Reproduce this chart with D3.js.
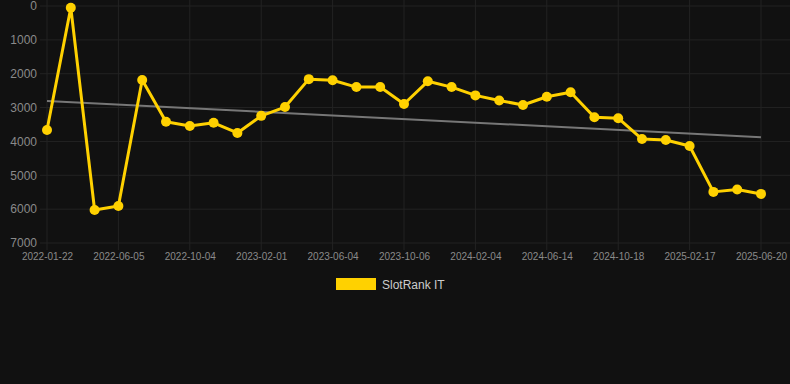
<!DOCTYPE html>
<html>
<head>
<meta charset="utf-8">
<script src="https://cdn.jsdelivr.net/npm/d3@7"></script>
<style>
  body { margin: 0; background: #111111; }
  svg { display: block; font-family: "Liberation Sans", Arial, sans-serif; }
</style>
</head>
<body>
<div id="chart"></div>
<script>
// rank values, one point per period
var rankValues = [3660, 50, 6025, 5905, 2185, 3420, 3545, 3450, 3750, 3245,
  2985, 2160, 2195, 2395, 2395, 2895, 2225, 2395, 2640, 2790,
  2925, 2680, 2545, 3285, 3315, 3930, 3960, 4135, 5490, 5420, 5550];

// every third point carries a date label
var tickIndex = [0, 3, 6, 9, 12, 15, 18, 21, 24, 27, 30];
var tickLabels = ["2022-01-22", "2022-06-05", "2022-10-04", "2023-02-01", "2023-06-04",
  "2023-10-06", "2024-02-04", "2024-06-14", "2024-10-18", "2025-02-17", "2025-06-20"];

var yTicks = [0, 1000, 2000, 3000, 4000, 5000, 6000, 7000];
var seriesName = "SlotRank IT";

var svgWidth = 790;
var svgHeight = 384;

var svg = d3.select("#chart")
  .append("svg")
  .attr("width", svgWidth)
  .attr("height", svgHeight);

svg.append("rect")
  .attr("width", svgWidth)
  .attr("height", svgHeight)
  .attr("fill", "#111111");

var xScale = d3.scaleLinear()
  .domain([0, rankValues.length - 1])
  .range([47, 761]);

var yScale = d3.scaleLinear()
  .domain([0, 7000])
  .range([6, 243]);

// grid lines
var grid = svg.append("g");
grid.selectAll(".hgrid")
  .data(yTicks)
  .enter()
  .append("line")
  .attr("x1", 40)
  .attr("x2", 790)
  .attr("y1", d => yScale(d))
  .attr("y2", d => yScale(d))
  .attr("stroke", "#232323")
  .attr("stroke-width", 1);

grid.selectAll(".vgrid")
  .data(tickIndex)
  .enter()
  .append("line")
  .attr("x1", d => xScale(d))
  .attr("x2", d => xScale(d))
  .attr("y1", 0)
  .attr("y2", 250)
  .attr("stroke", "#232323")
  .attr("stroke-width", 1);

// y axis labels
var leftAxis = d3.axisLeft(yScale)
  .tickValues(yTicks)
  .tickSize(0)
  .tickPadding(0)
  .tickFormat(d => d);

var yAxis = svg.append("g")
  .attr("transform", "translate(37, 0)")
  .call(leftAxis);
yAxis.select(".domain").remove();
yAxis.selectAll("text")
  .attr("fill", "#8a8a8a")
  .attr("font-size", 12)
  .attr("font-family", "Liberation Sans, Arial, sans-serif");

// x axis labels
var bottomAxis = d3.axisBottom(xScale)
  .tickValues(tickIndex)
  .tickSize(0)
  .tickPadding(0)
  .tickFormat((d, i) => tickLabels[i]);

var xAxis = svg.append("g")
  .attr("transform", "translate(0, 253)")
  .call(bottomAxis);
xAxis.select(".domain").remove();
xAxis.selectAll("text")
  .attr("fill", "#8a8a8a")
  .attr("font-size", 10)
  .attr("font-family", "Liberation Sans, Arial, sans-serif");

// trend line (least squares over the series)
var n = rankValues.length;
var meanX = d3.mean(rankValues, (d, i) => i);
var meanY = d3.mean(rankValues);
var sxy = d3.sum(rankValues, (d, i) => (i - meanX) * (d - meanY));
var sxx = d3.sum(rankValues, (d, i) => (i - meanX) * (i - meanX));
var slope = sxy / sxx;
var intercept = meanY - slope * meanX;

svg.append("line")
  .attr("x1", xScale(0))
  .attr("x2", xScale(n - 1))
  .attr("y1", yScale(intercept))
  .attr("y2", yScale(intercept + slope * (n - 1)))
  .attr("stroke", "#777777")
  .attr("stroke-width", 2);

// main series
var line = d3.line()
  .x((d, i) => xScale(i))
  .y(d => yScale(d));

svg.append("path")
  .datum(rankValues)
  .attr("d", line)
  .attr("fill", "none")
  .attr("stroke", "#ffd100")
  .attr("stroke-width", 3)
  .attr("stroke-linejoin", "round");

svg.selectAll(".pt")
  .data(rankValues)
  .enter()
  .append("circle")
  .attr("cx", (d, i) => xScale(i))
  .attr("cy", d => yScale(d))
  .attr("r", 5)
  .attr("fill", "#ffd100");

// legend
var legend = svg.append("g");
legend.append("rect")
  .attr("x", 336)
  .attr("y", 278)
  .attr("width", 40)
  .attr("height", 12)
  .attr("fill", "#ffd100");
legend.append("text")
  .attr("x", 382)
  .attr("y", 289)
  .attr("fill", "#cccccc")
  .attr("font-size", 12)
  .text(seriesName);
</script>
</body>
</html>
